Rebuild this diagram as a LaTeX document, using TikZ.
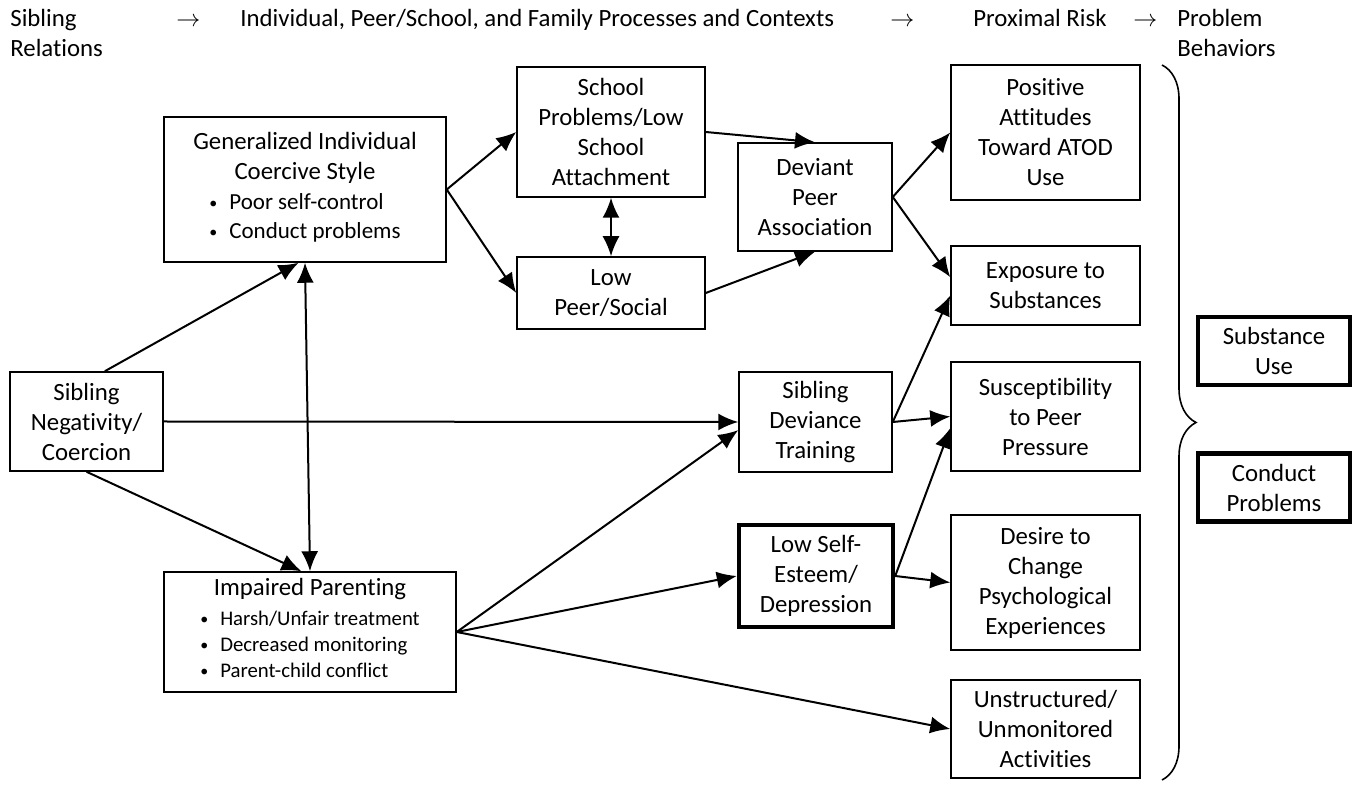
\documentclass[tikz,border=0pt]{standalone}
\usepackage{fontspec}
\setmainfont{Carlito}[Ligatures=NoCommon]
\usetikzlibrary{arrows.meta,decorations.pathreplacing}

\newcommand{\bul}{\raisebox{0.5pt}{\fontsize{8}{8}\selectfont\textbullet}\hspace{6pt}}

\tikzset{
  box/.style={draw, line width=0.75pt, align=center, inner sep=2pt,
    font=\fontsize{12.4}{15}\selectfont},
  keybox/.style={box, line width=2.2pt},
  link/.style={line width=1pt, -{Latex[length=10pt,width=8.5pt]}},
  twoway/.style={line width=1pt, {Latex[length=10pt,width=8.5pt]}-{Latex[length=10pt,width=8.5pt]}},
  head/.style={anchor=base west, inner sep=0pt, font=\fontsize{12.4}{15}\selectfont}
}

\begin{document}
\begin{tikzpicture}[x=0.5pt,y=-0.5pt]
  \useasboundingbox (0,0) rectangle (1360,785);

  % column headings
  \node[head] (h1a) at (10,27) {Sibling};
  \node[head] (h1b) at (10,57) {Relations};
  \node[head] (a1) at (176,27) {$\rightarrow$};
  \node[head] (h2) at (240,27) {Individual, Peer/School, and Family Processes and Contexts};
  \node[head] (a2) at (890,27) {$\rightarrow$};
  \node[head] (h3) at (973,27) {Proximal Risk};
  \node[head] (a3) at (1133,27) {$\rightarrow$};
  \node[head] (h4a) at (1177,27) {Problem};
  \node[head] (h4b) at (1177,57) {Behaviors};

  % sibling relations
  \node[box, minimum width=76.5pt, minimum height=49.5pt] (sib) at (86.5,421.5)
    {Sibling\\Negativity/\\Coercion};

  % processes and contexts
  \node[box, minimum width=141pt, minimum height=72.5pt] (gen) at (305,189.5)
    {Generalized Individual\\Coercive Style\\
     {\fontsize{11.5}{14.5}\selectfont\begin{tabular}[t]{@{}l@{}}\bul Poor self-control\\
      \bul Conduct problems\end{tabular}}};
  \node[box, minimum width=146pt, minimum height=60pt] (par) at (310,632)
    {Impaired Parenting\\
     {\fontsize{10.4}{13}\selectfont\begin{tabular}[t]{@{}l@{}}\bul Harsh/Unfair treatment\\
      \bul Decreased monitoring\\\bul Parent-child conflict\end{tabular}}};
  \node[box, minimum width=94pt, minimum height=65pt] (school) at (611,132)
    {School\\Problems/Low\\School\\Attachment};
  \node[box, minimum width=94pt, minimum height=36pt] (lowpeer) at (611,293)
    {Low\\Peer/Social};
  \node[box, minimum width=77pt, minimum height=54pt] (devpeer) at (815,197)
    {Deviant\\Peer\\Association};
  \node[box, minimum width=76.5pt, minimum height=50pt] (sdt) at (815.5,422)
    {Sibling\\Deviance\\Training};
  \node[keybox, minimum width=77pt, minimum height=51pt] (lse) at (816,576)
    {Low Self-\\Esteem/\\Depression};

  % proximal risk
  \node[box, minimum width=94.5pt, minimum height=67.5pt] (pos) at (1045.5,132.5)
    {Positive\\Attitudes\\Toward ATOD\\Use};
  \node[box, minimum width=94.5pt, minimum height=39.5pt] (expo) at (1045.5,285.5)
    {Exposure to\\Substances};
  \node[box, minimum width=94.5pt, minimum height=54.5pt] (susc) at (1045.5,416.5)
    {Susceptibility\\to Peer\\Pressure};
  \node[box, minimum width=94.5pt, minimum height=67.5pt] (desire) at (1045.5,582.5)
    {Desire to\\Change\\Psychological\\Experiences};
  \node[box, minimum width=94.5pt, minimum height=49pt] (unstr) at (1045.5,729)
    {Unstructured/\\Unmonitored\\Activities};

  % problem behaviors
  \node[keybox, minimum width=76pt, minimum height=34pt] (subst) at (1274,351)
    {Substance\\Use};
  \node[keybox, minimum width=76pt, minimum height=34pt] (conduct) at (1274,487.5)
    {Conduct\\Problems};

  \coordinate (bracetop) at (1162,65);
  \coordinate (bracebot) at (1162,780);
  \draw[line width=0.8pt, decorate, decoration={brace, amplitude=17pt}]
    (bracetop) -- (bracebot);

  % paths
  \draw[link] (sib.70) -- (gen.-95);
  \draw[link] (sib.south) -- (par.98);
  \draw[link] (sib.east) -- (sdt.west);
  \draw[twoway] (gen.south) -- (par.north);
  \draw[link] (gen.east) -- (school.west);
  \draw[link] (gen.east) -- (lowpeer.west);
  \draw[twoway] (school.south) -- (lowpeer.north);
  \draw[link] (school.east) -- (devpeer.north);
  \draw[link] (lowpeer.east) -- (devpeer.south);
  \draw[link] (devpeer.east) -- (pos.west);
  \draw[link] (devpeer.east) -- (expo.175);
  \draw[link] (sdt.east) -- (expo.-174);
  \draw[link] (sdt.east) -- (susc.west);
  \draw[link] (par.east) -- (sdt.-174);
  \draw[link] (par.east) -- (lse.west);
  \draw[link] (par.east) -- (unstr.west);
  \draw[link] (lse.east) -- (susc.-173);
  \draw[link] (lse.east) -- (desire.west);
\end{tikzpicture}
\end{document}
